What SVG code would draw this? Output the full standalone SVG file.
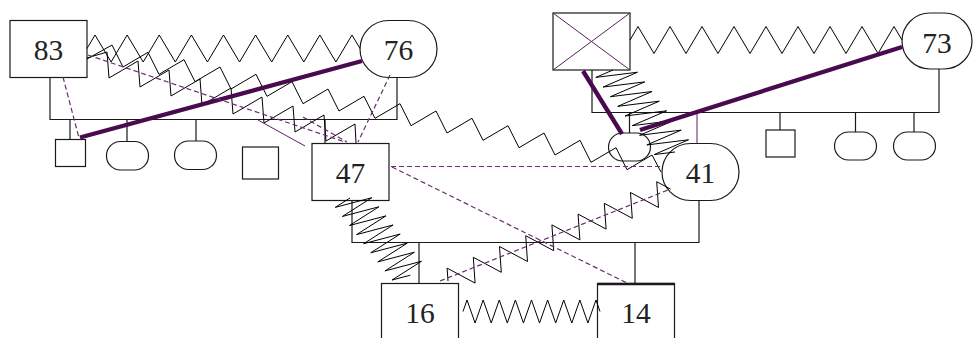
<svg xmlns="http://www.w3.org/2000/svg" width="973" height="338" viewBox="0 0 973 338">
<style>
.box{fill:#fff;stroke:#1a1a1a;stroke-width:1.2}
.lbl{font-family:"Liberation Serif","DejaVu Serif",serif;font-size:29.5px;fill:#222;text-anchor:middle}
.kin{fill:none;stroke:#1a1a1a;stroke-width:1.2}
.zz{fill:none;stroke:#000;stroke-width:1}
.ns{vector-effect:non-scaling-stroke}
.fused{fill:none;stroke:#4a0a4f;stroke-width:4.3}
.distant{fill:none;stroke:#6b2c70;stroke-width:1.2;stroke-dasharray:5 3}
.thin{fill:none;stroke:#5c1e62;stroke-width:1}
</style>
<rect width="973" height="338" fill="#fff"/>

<!-- people -->
<g id="n83"><rect class="box" x="10" y="20.5" width="77" height="57"/><text class="lbl" x="48.5" y="59.5">83</text></g>
<g id="n76"><rect class="box" x="360" y="20.5" width="77" height="57" rx="28.5"/><text class="lbl" x="398.5" y="59.5">76</text></g>
<g id="nX"><rect class="box" x="553" y="13" width="77" height="57"/><path class="thin" d="M553,13L630,70M630,13L553,70"/></g>
<g id="n73"><rect class="box" x="902" y="13" width="70" height="56" rx="28"/><text class="lbl" x="937" y="52.5">73</text></g>
<g id="n47"><rect class="box" x="312" y="143.5" width="77" height="57"/><text class="lbl" x="350.5" y="182.5">47</text></g>
<g id="n41"><rect class="box" x="662" y="143.5" width="77" height="57" rx="28.5"/><text class="lbl" x="700.5" y="182.5">41</text></g>
<g id="n16"><rect class="box" x="381.5" y="283.5" width="77" height="60"/><text class="lbl" x="420" y="322.5">16</text></g>
<g id="n14"><rect class="box" x="597.5" y="283.5" width="77" height="60"/><path d="M597.5,284H674.5" stroke="#1a1a1a" stroke-width="2.5"/><text class="lbl" x="636" y="322.5">14</text></g>
<g id="s1"><rect class="box" x="55.5" y="139.5" width="30" height="27"/></g>
<g id="s2"><rect class="box" x="106.5" y="141.5" width="42" height="28.5" rx="14"/></g>
<g id="s3"><rect class="box" x="174.5" y="141" width="42" height="28.5" rx="14"/></g>
<g id="s4"><rect class="box" x="242.5" y="147" width="36" height="32"/></g>
<g id="s5"><rect class="box" x="608.5" y="133" width="42" height="28" rx="14"/></g>
<g id="s6"><rect class="box" x="766" y="130" width="29" height="27"/></g>
<g id="s7"><rect class="box" x="834.5" y="132" width="42" height="28" rx="14"/></g>
<g id="s8"><rect class="box" x="893.5" y="132" width="42" height="28" rx="14"/></g>

<g id="connectors">
 <!-- family lines -->
 <path class="kin" d="M50,77.5V119.5H397V77.5M70,119.5V139.5M127,119.5V141.5M196,119.5V141M325,119.5V143.5"/>
 <path class="kin" d="M592,70V112.5H939V69M629.5,112.5V133M780,112.5V130M855.5,112.5V132M914,112.5V132"/>
 <path class="thin" d="M697,112.5V143.5"/>
 <path class="kin" d="M352,200.5V242.5H699V200.5M419,242.5V283.5M635,242.5V283.5"/>

 <!-- hostile (zigzag): unit polyline mapped onto each link by a matrix -->
 <polyline class="zz ns" transform="matrix(273,0,0,-13.5,87,48.5)" points="0,0 .0294,1 .0882,-1 .1471,1 .2059,-1 .2647,1 .3235,-1 .3824,1 .4412,-1 .5,1 .5588,-1 .6176,1 .6765,-1 .7353,1 .7941,-1 .8529,1 .9118,-1 .9706,1 1,0"/>
 <polyline class="zz ns" transform="matrix(272,0,0,-13.5,630,40)" points="0,0 .0294,1 .0882,-1 .1471,1 .2059,-1 .2647,1 .3235,-1 .3824,1 .4412,-1 .5,1 .5588,-1 .6176,1 .6765,-1 .7353,1 .7941,-1 .8529,1 .9118,-1 .9706,1 1,0"/>
 <polyline class="zz ns" transform="matrix(137,0,0,-11.5,463,311.5)" points="0,0 .0294,1 .0882,-1 .1471,1 .2059,-1 .2647,1 .3235,-1 .3824,1 .4412,-1 .5,1 .5588,-1 .6176,1 .6765,-1 .7353,1 .7941,-1 .8529,1 .9118,-1 .9706,1 1,0"/>
 <polyline class="zz ns" transform="matrix(60.3,77.2,-16.5,7.1,350,198)" points="0,0 .0294,1 .0882,-1 .1471,1 .2059,-1 .2647,1 .3235,-1 .3824,1 .4412,-1 .5,1 .5588,-1 .6176,1 .6765,-1 .7353,1 .7941,-1 .8529,1 .9118,-1 .9706,1 1,0"/>
 <polyline class="zz ns" transform="matrix(222.7,-91.8,-7.45,-10.2,448,281)" points="0,0 .0294,1 .0882,-1 .1471,1 .2059,-1 .2647,1 .3235,-1 .3824,1 .4412,-1 .5,1 .5588,-1 .6176,1 .6765,-1 .7353,1 .7941,-1 .8529,1 .9118,-1 .9706,1 1,0"/>
 <polyline class="zz ns" transform="matrix(62,82,-19,5,613,70)" points="0,0 .0294,1 .0882,-1 .1471,1 .2059,-1 .2647,1 .3235,-1 .3824,1 .4412,-1 .5,1 .5588,-1 .6176,1 .6765,-1 .7353,1 .7941,-1 .8529,1 .9118,-1 .9706,1 1,0"/>
 <polyline class="zz" points="87,59 112,45 123,67 148,52.3 159,74.3 184,59.7 195,81.7 220,67 231,89 256,74.3 267,96.3 292,81.7 303,103.7 328,89 339,111 364,96.3 375,118.3 400,103.7 411,125.7 436,111 447,133 472,118.3 483,140.3 508,125.7 519,147.7 544,133 555,155 580,140.3 591,162.3 616,147.7 627,169.7 652,155 661,172"/>
 <polyline class="zz" points="87,58 107,52 109,78 138,61 140,87 169,70 171,96 200,79 202,105 231,88 233,114 262,97 264,123 293,106 295,132 324,115 326,141 355,124 356,143"/>

 <!-- fused -->
 <path class="fused" d="M80,137.5L362,61M583,71L622,134M640,130L902,47"/>

 <!-- distant -->
 <path class="distant" d="M63,77L79,138M88,55L345,142M390,75L358,142M391,166.5H662M392,167L627,283M440,281L668,190M303,117L347,142"/>
 <path class="thin" d="M258,120L305,146"/>
</g>
</svg>
